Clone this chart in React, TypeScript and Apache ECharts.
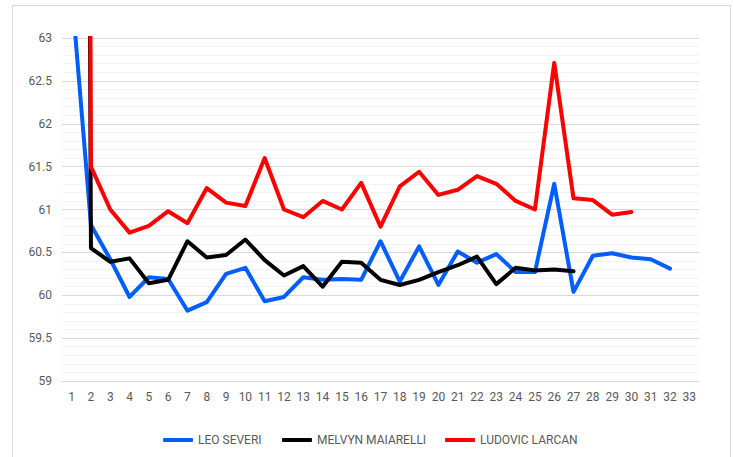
import React, { useEffect, useRef } from "react";
import * as echarts from "echarts";

const categories = Array.from({ length: 33 }, (_, i) => String(i + 1));

const leoSeveri: (number | null)[] = [
  63.55, 60.82, 60.42, 59.98, 60.21, 60.19, 59.82, 59.92, 60.25, 60.32,
  59.93, 59.98, 60.21, 60.18, 60.19, 60.18, 60.63, 60.16, 60.57, 60.12,
  60.51, 60.38, 60.48, 60.27, 60.27, 61.3, 60.04, 60.46, 60.49, 60.44,
  60.42, 60.31, null,
];

const melvynMaiarelli: (number | null)[] = [
  110, 60.55, 60.39, 60.43, 60.14, 60.18, 60.63, 60.44, 60.47, 60.65,
  60.41, 60.23, 60.34, 60.1, 60.39, 60.38, 60.18, 60.12, 60.18, 60.27,
  60.35, 60.45, 60.13, 60.32, 60.29, 60.3, 60.28, null, null, null,
  null, null, null,
];

const ludovicLarcan: (number | null)[] = [
  120, 61.5, 61.0, 60.73, 60.81, 60.98, 60.84, 61.25, 61.08, 61.04,
  61.6, 61.0, 60.91, 61.1, 61.0, 61.31, 60.8, 61.27, 61.44, 61.17,
  61.23, 61.39, 61.3, 61.1, 61.0, 62.71, 61.13, 61.11, 60.94, 60.97,
  null, null, null,
];

const seriesNames = ["LEO SEVERI", "MELVYN MAIARELLI", "LUDOVIC LARCAN"];
const seriesColors = ["#005EFF", "#000000", "#FF0000"];
const seriesData = [leoSeveri, melvynMaiarelli, ludovicLarcan];
const legendLefts = [158, 277, 440];

export default function App() {
  const ref = useRef<HTMLDivElement>(null);
  useEffect(() => {
    if (!ref.current) return;
    const chart = echarts.init(ref.current, undefined, { renderer: "svg" });
    const font = "Roboto, 'Liberation Sans', sans-serif";
    chart.setOption({
      animation: false,
      backgroundColor: "#ffffff",
      graphic: [
        {
          type: "rect",
          shape: { x: 12.5, y: 5.5, width: 718, height: 470 },
          style: { fill: "none", stroke: "#d9d9d9", lineWidth: 1 },
          silent: true,
        },
      ],
      grid: { left: 62, right: 35, top: 38, bottom: 76, containLabel: false },
      legend: seriesNames.map((name, i) => ({
        data: [name],
        left: legendLefts[i],
        top: 429,
        icon: "roundRect",
        itemWidth: 30,
        itemHeight: 4,
        itemGap: 0,
        textStyle: { color: "#595959", fontSize: 12, fontFamily: font },
      })),
      xAxis: {
        type: "category",
        data: categories,
        boundaryGap: true,
        axisLine: { show: true, lineStyle: { color: "#d9d9d9", width: 1 } },
        axisTick: { show: false },
        axisLabel: { color: "#595959", fontSize: 12, fontFamily: font, margin: 10, interval: 0 },
        splitLine: { show: false },
      },
      yAxis: {
        type: "value",
        min: 59,
        max: 63,
        interval: 0.5,
        axisLine: { show: false },
        axisTick: { show: false },
        axisLabel: { color: "#595959", fontSize: 12, fontFamily: font, margin: 10 },
        splitLine: { show: true, lineStyle: { color: "#d9d9d9", width: 1 } },
        minorTick: { show: false, splitNumber: 5 },
        minorSplitLine: { show: true, lineStyle: { color: "#f2f2f2", width: 1 } },
      },
      series: seriesNames.map((name, i) => ({
        name,
        type: "line",
        data: seriesData[i],
        showSymbol: false,
        symbol: "none",
        clip: true,
        connectNulls: false,
        lineStyle: { color: seriesColors[i], width: 4, join: "round", cap: "round" },
        itemStyle: { color: seriesColors[i] },
        z: 2 + i,
      })),
    });
    return () => chart.dispose();
  }, []);
  return (
    <div
      ref={ref}
      style={{ position: "fixed", left: 0, top: 0, width: 734, height: 457 }}
    />
  );
}
